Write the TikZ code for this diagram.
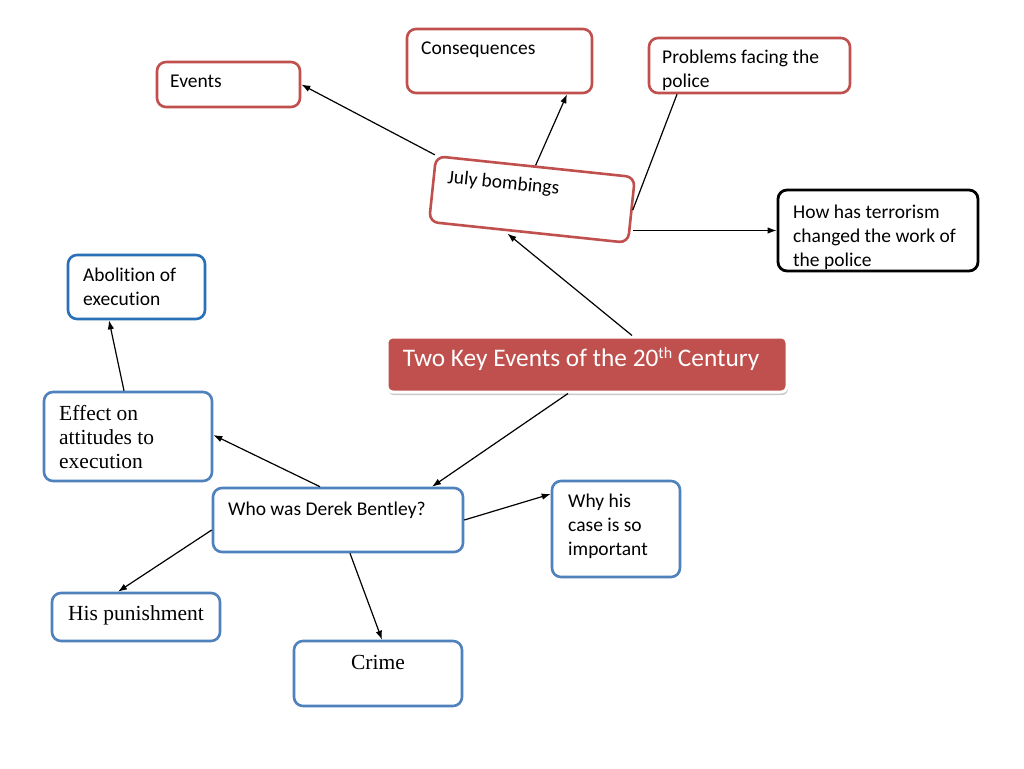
\documentclass[tikz,border=0pt]{standalone}
\usepackage{fontspec}
\setmainfont{Carlito}[Ligatures=NoCommon]
\newfontfamily\serifcam{Liberation Serif}
\usetikzlibrary{arrows.meta,shadows}
\definecolor{bred}{RGB}{192,80,77}
\definecolor{bblue}{RGB}{79,129,189}
\definecolor{dblue}{RGB}{42,112,185}
\tikzset{
  box/.style={draw, rounded corners=9pt, line width=2.6pt, fill=white, inner sep=0pt, text=black},
  redbox/.style={box, draw=bred},
  bluebox/.style={box, draw=bblue},
  lbl/.style={inner sep=0pt, font=\fontsize{19.5}{24}\selectfont, align=left},
  slbl/.style={inner sep=0pt, font=\serifcam\fontsize{21.5}{24}\selectfont, align=left},
  arr/.style={line width=1.2pt, -{Latex[length=9pt,width=6.5pt]}},
  ln/.style={line width=1.2pt},
}
\begin{document}
\begin{tikzpicture}[x=1pt,y=1pt]
\useasboundingbox (0,0) rectangle (1024,-768);
\fill[white] (0,0) rectangle (1024,-768);

% boxes
\node[redbox, minimum width=143, minimum height=45] (ev) at (228.5,-84.5) {};
\node[redbox, minimum width=185, minimum height=64] (cons) at (499.5,-61) {};
\node[redbox, minimum width=201, minimum height=55] (prob) at (749.5,-65.5) {};
\node[redbox, rotate=-6, minimum width=200, minimum height=66] (jb) at (532,-199.5) {};
\node[box, draw=black, line width=2.8pt, minimum width=200, minimum height=81] (how) at (878,-230.5) {};
\node[box, fill=bred, draw=white, line width=3pt, rounded corners=6pt, minimum width=400, minimum height=55,
      drop shadow={shadow xshift=1pt, shadow yshift=-3pt, opacity=0.35, fill=black!60}] (title) at (587,-364.5) {};
\node[box, draw=dblue, minimum width=137, minimum height=64] (abo) at (136.5,-287) {};
\node[bluebox, minimum width=168, minimum height=89] (eff) at (128,-436.5) {};
\node[bluebox, minimum width=250, minimum height=64] (who) at (338,-520) {};
\node[bluebox, minimum width=128, minimum height=96] (why) at (616,-529) {};
\node[bluebox, minimum width=168, minimum height=48] (pun) at (136,-617) {};
\node[bluebox, minimum width=168, minimum height=65] (crime) at (378,-673.5) {};

% labels (base = baseline of last line)
\node[lbl, anchor=base west] (evt) at (170,-87) {Events};
\node[lbl, anchor=base west] (const) at (421,-55) {Consequences};
\node[lbl, anchor=base west] (probt) at (662,-87) {Problems facing the\\police};
\node[lbl, anchor=base west, rotate=-6] (jbt) at (447,-183) {July bombings};
\node[lbl, anchor=base west] (howt) at (793,-266) {How has terrorism\\changed the work of\\the police};
\node[inner sep=0pt, anchor=base, text=white, font=\fontsize{25.3}{30}\selectfont] (titlet) at (581,-366) {Two Key Events of the 20\raisebox{7.5pt}{\fontsize{16}{16}\selectfont th} Century};
\node[lbl, anchor=base west] (abot) at (83,-305) {Abolition of\\execution};
\node[slbl, anchor=base west] (efft) at (59,-468) {Effect on\\attitudes to\\execution};
\node[lbl, anchor=base west] (whot) at (228,-515.5) {Who was Derek Bentley?};
\node[lbl, anchor=base west] (whyt) at (568,-555) {Why his\\case is so\\important};
\node[slbl, anchor=base] (punt) at (136,-620) {His punishment};
\node[slbl, anchor=base] (crimet) at (378,-669) {Crime};

% connectors
\draw[arr] (jb.north west) -- (ev.east);
\draw[arr] (jb.north) -- ([xshift=67.5pt]cons.south);
\draw[ln] (jb.east) -- ([xshift=-72.5pt]prob.south);
\draw[arr] (how.west -| jb.east) -- (how.west);
\draw[arr] ([xshift=45pt]title.north) -- ([xshift=-21pt]jb.south);
\draw[arr] ([xshift=-19pt]title.south) -- ([xshift=94pt]who.north);
\draw[arr] ([xshift=-18pt]who.north) -- ([yshift=1.5pt]eff.east);
\draw[arr] (who.east) -- ([yshift=35pt]why.west);
\draw[arr] ([yshift=-10pt]who.west) -- ([xshift=-18pt]pun.north);
\draw[arr] ([xshift=12pt]who.south) -- ([xshift=4pt]crime.north);
\draw[arr] ([xshift=-4pt]eff.north) -- ([xshift=-27.5pt]abo.south);
\end{tikzpicture}
\end{document}
